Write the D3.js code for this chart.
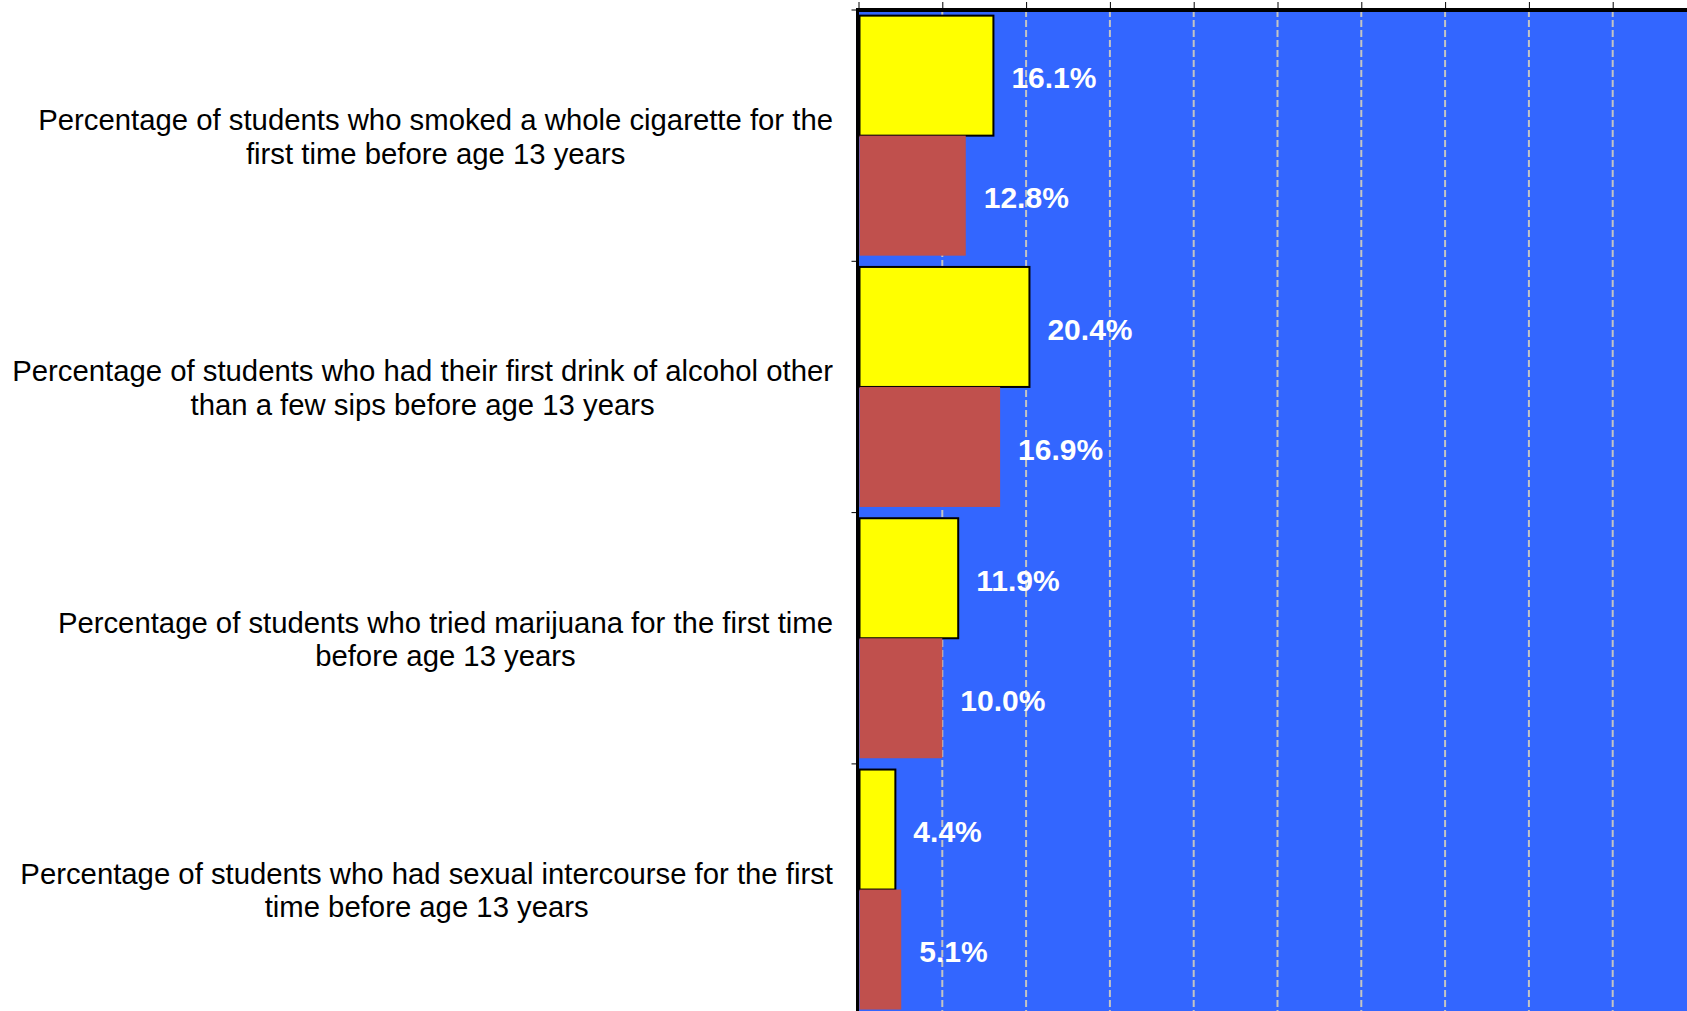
<!DOCTYPE html>
<html>
<head>
<meta charset="utf-8">
<script src="https://cdn.jsdelivr.net/npm/d3@7/dist/d3.min.js"></script>
<style>
html, body { margin: 0; padding: 0; background: #ffffff; overflow: hidden; }
svg { display: block; }
</style>
</head>
<body>
<svg id="chart" width="1687" height="1011"></svg>
<script>
// ---- Data ----
const categories = [
  ["Percentage of students who smoked a whole cigarette for the", "first time before age 13 years"],
  ["Percentage of students who had their first drink of alcohol other", "than a few sips before age 13 years"],
  ["Percentage of students who tried marijuana for the first time", "before age 13 years"],
  ["Percentage of students who had sexual intercourse for the first", "time before age 13 years"]
];
const seriesNames = ["Series A", "Series B"];
const seriesA = [16.1, 20.4, 11.9, 4.4];
const seriesB = [12.8, 16.9, 10.0, 5.1];
const xTicks = [0, 10, 20, 30, 40, 50, 60, 70, 80, 90, 100];
const colors = { "Series A": "#FFFF00", "Series B": "#C0504D" };

// ---- Layout ----
const W = 1687, H = 1011;
const plotLeft = 858.5, plotTop = 10, plotBottom = 1015.2;
const svg = d3.select("#chart");

const x = d3.scaleLinear().domain([0, 100]).range([plotLeft, plotLeft + 838]);
const catIdx = d3.range(categories.length);
const y = d3.scaleBand().domain(catIdx).range([plotTop, plotBottom]).padding(0);
const ySub = d3.scaleBand().domain(seriesNames).range([0, y.bandwidth()]).paddingInner(0).paddingOuter(0.047);

// plot background
svg.append("rect")
  .attr("x", x(0)).attr("y", plotTop)
  .attr("width", x(100) - x(0)).attr("height", plotBottom - plotTop)
  .attr("fill", "#3366FF");

// gridlines
svg.append("g").selectAll("line")
  .data(xTicks.filter(t => t > 0))
  .join("line")
  .attr("x1", d => x(d)).attr("x2", d => x(d))
  .attr("y1", plotTop).attr("y2", plotBottom)
  .attr("stroke", "#C4C4C4").attr("stroke-width", 2)
  .attr("stroke-dasharray", "7,3");

// bars
const rows = [];
catIdx.forEach(i => {
  rows.push({ i, s: "Series A", v: seriesA[i] });
  rows.push({ i, s: "Series B", v: seriesB[i] });
});

svg.append("g").selectAll("rect")
  .data(rows)
  .join("rect")
  .attr("x", x(0) + 1)
  .attr("y", d => y(d.i) + ySub(d.s))
  .attr("width", d => x(d.v) - x(0) - 1)
  .attr("height", ySub.bandwidth())
  .attr("fill", d => colors[d.s])
  .attr("stroke", d => d.s === "Series A" ? "#000" : "none")
  .attr("stroke-width", 2);

// value labels
svg.append("g").selectAll("text")
  .data(rows)
  .join("text")
  .attr("x", d => x(d.v) + 18)
  .attr("y", d => y(d.i) + ySub(d.s) + ySub.bandwidth() / 2)
  .attr("dy", "0.42em")
  .attr("fill", "#ffffff")
  .attr("font-family", "'Liberation Sans', Arial, sans-serif")
  .attr("font-weight", "bold")
  .attr("font-size", 30)
  .text(d => d.v.toFixed(1) + "%");

// top axis
const topAxis = d3.axisTop(x).tickValues(xTicks).tickSize(6).tickFormat("");
const gTop = svg.append("g").attr("transform", `translate(0,${plotTop - 2})`).call(topAxis);
gTop.select(".domain").remove();
gTop.selectAll(".tick line").attr("stroke", "#000").attr("stroke-width", 1);
svg.append("line")
  .attr("x1", x(0) - 2).attr("x2", W)
  .attr("y1", plotTop).attr("y2", plotTop)
  .attr("stroke", "#000").attr("stroke-width", 4);

// left axis
const boundaries = catIdx.map(i => y(i));
svg.append("g").selectAll("line")
  .data(boundaries)
  .join("line")
  .attr("x1", x(0) - 7).attr("x2", x(0))
  .attr("y1", d => d).attr("y2", d => d)
  .attr("stroke", "#000").attr("stroke-width", 1);
svg.append("line")
  .attr("x1", x(0) - 1).attr("x2", x(0) - 1)
  .attr("y1", plotTop - 2).attr("y2", plotBottom)
  .attr("stroke", "#000").attr("stroke-width", 3);

// category labels
const labelRight = 833;
const lineGap = 33.4;
catIdx.forEach(i => {
  const cy = y(i) + y.bandwidth() / 2;
  const g = svg.append("g");
  const texts = g.selectAll("text")
    .data(categories[i])
    .join("text")
    .attr("font-family", "'Liberation Sans', Arial, sans-serif")
    .attr("font-size", 29.3)
    .attr("fill", "#000")
    .attr("text-anchor", "middle")
    .attr("y", (d, k) => cy - 5.5 + k * lineGap)
    .text(d => d);
  let maxW = 0;
  texts.each(function () { maxW = Math.max(maxW, this.getComputedTextLength()); });
  texts.attr("x", labelRight - maxW / 2);
});
</script>
</body>
</html>
